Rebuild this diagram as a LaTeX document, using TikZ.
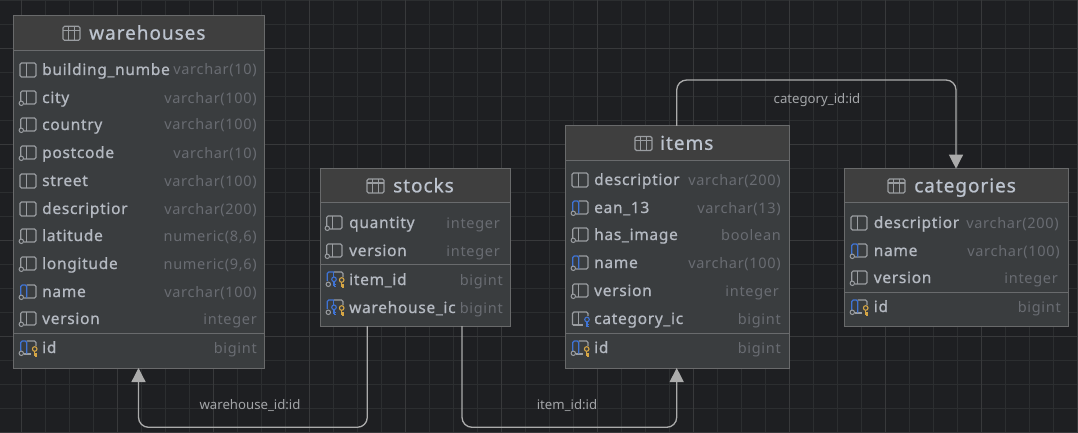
\documentclass[tikz,border=0pt]{standalone}
\usepackage{fontspec}
\usetikzlibrary{arrows.meta,calc}
\setmainfont{Noto Sans}
\newfontfamily\rowf[LetterSpace=4.5,FakeBold=0.8]{Noto Sans}
\newfontfamily\typef[LetterSpace=4.8]{Noto Sans}
\newfontfamily\titlef[LetterSpace=5,FakeBold=0.8]{Noto Sans}
\newfontfamily\labf{Noto Sans}
\definecolor{bgc}{HTML}{1E1F22}
\definecolor{gridmin}{HTML}{2C2E30}
\definecolor{gridmaj}{HTML}{38393B}
\definecolor{headc}{HTML}{3F3F3F}
\definecolor{bodyc}{HTML}{3A3D3F}
\definecolor{edgec}{HTML}{696A6B}
\definecolor{sepc}{HTML}{696B6D}
\definecolor{namec}{HTML}{B4B9C1}
\definecolor{typec}{HTML}{696C72}
\definecolor{titlec}{HTML}{BCC3CE}
\definecolor{iconc}{HTML}{9A9DA1}
\definecolor{bluec}{HTML}{3F74D6}
\definecolor{goldc}{HTML}{D6A645}
\definecolor{relc}{HTML}{ABABAB}
\definecolor{labc}{HTML}{A3A5A8}
\tikzset{
  tablebox/.style={draw=edgec,line width=1pt,fill=bodyc,inner sep=0pt,outer sep=0pt,anchor=north west},
  rowname/.style={anchor=base west,inner sep=0pt,text=namec,font=\rowf\fontsize{15.5}{16}\selectfont},
  rowtype/.style={anchor=base east,inner sep=0pt,text=typec,font=\typef\fontsize{14.5}{16}\selectfont},
  titletext/.style={anchor=base west,inner sep=0pt,text=titlec,font=\titlef\fontsize{19}{20}\selectfont},
  rellabel/.style={inner sep=0pt,text=labc,font=\labf\fontsize{13.2}{14}\selectfont},
  rel/.style={draw=relc,line width=1.3pt,rounded corners=10pt},
  reltip/.style={-{Triangle[length=14pt,width=14pt,fill=relc]}},
  icn/.style={draw=iconc,line width=1.1pt,rounded corners=1.5pt},
  blu/.style={draw=bluec,line width=1.2pt,rounded corners=1.5pt},
  kkey/.style={line width=1.1pt},
}
\newcounter{tn}
\newcommand{\dbtable}[9]{%
  \node[tablebox,minimum width=#4pt-#2pt,minimum height=#5pt-#3pt] (#1) at (#2,#3) {};
  \fill[headc] (#2+.5,#3+.5) rectangle (#4-.5,#6);
  \draw[sepc,line width=1pt] (#2+.5,#6) -- (#4-.5,#6);
  \draw[sepc,line width=1pt] (#2+.5,#7) -- (#4-.5,#7);
}
\newcommand{\dbtitle}[4]{%
  \draw[iconc,line width=1.1pt,rounded corners=1.5pt] (#2,#4-7) rectangle (#2+17,#4+7);
  \draw[iconc,line width=1.1pt] (#2,#4-3) -- (#2+17,#4-3) (#2+5.7,#4-7) -- (#2+5.7,#4+7) (#2+11.3,#4-7) -- (#2+11.3,#4+7);
  \stepcounter{tn}\node[titletext] (t\arabic{tn}) at (#3,#4+6.3) {#1};
}
\newcommand{\rowtxt}[6]{%
  \begin{scope}[shift={(#2,#5)}]#1\end{scope}%
  \stepcounter{tn}\node[rowname] (t\arabic{tn}) at (#3,#5+5) {#6};
}
\newcommand{\typetxt}[3]{\stepcounter{tn}\node[rowtype] (t\arabic{tn}) at (#1,#2+5) {#3};}
\newcommand{\icPlain}{\draw[icn] (0,-7) rectangle (16,7); \draw[icn] (6.7,-7) -- (6.7,7);}
\newcommand{\icBase}{%
  \draw[icn] (.7,3) -- (.7,-7) -- (16,-7) -- (16,6) -- (4,6);
  \draw[iconc,line width=1.1pt] (6.7,-7) -- (6.7,6);
  \draw[iconc,line width=1pt] (1.3,5.3) circle[radius=2.2pt];}
\newcommand{\icUq}{%
  \draw[icn] (6.7,-7) -- (16,-7) -- (16,6) -- (4,6);
  \draw[blu] (.7,3) -- (.7,-7) -- (6.7,-7) -- (6.7,5.5);
  \draw[iconc,line width=1pt] (1.3,5.3) circle[radius=2.2pt];}
\newcommand{\goldkey}[3]{%
  \draw[#3,kkey] (#1,#2) circle[radius=2.3pt];
  \draw[#3,kkey] (#1,#2+2.3) -- (#1,#2+7) (#1,#2+5) -- (#1+2.2,#2+5) (#1,#2+7) -- (#1+2.2,#2+7);}
\newcommand{\icPk}{%
  \draw[icn] (6.7,-7) -- (16,-7) -- (16,-2);
  \draw[icn] (4,6) -- (11,6);
  \draw[blu] (.7,3) -- (.7,-7) -- (6.7,-7) -- (6.7,5.5);
  \draw[iconc,line width=1pt] (1.3,5.3) circle[radius=2.2pt];
  \goldkey{14.7}{1}{goldc}}
\newcommand{\icFk}{%
  \draw[icn] (.5,6) -- (.5,-7) -- (16,-7) -- (16,-3);
  \draw[icn] (.5,6) -- (11,6);
  \draw[iconc,line width=1.1pt] (6.7,-7) -- (6.7,6);
  \goldkey{15}{0.5}{bluec}}
\newcommand{\icPkFk}{%
  \draw[icn] (8,-8) -- (17,-8) -- (17,-3);
  \draw[blu] (1.2,1) -- (1.2,-8) -- (8,-8);
  \draw[blu] (7.5,-8) -- (7.5,-3);
  \draw[iconc,line width=1pt] (2.3,4.3) circle[radius=2.2pt];
  \goldkey{8}{-0.7}{bluec}
  \goldkey{15.7}{0}{goldc}}
\begin{document}
\begin{tikzpicture}[x=1pt,y=-1pt]
\useasboundingbox (0,0) rectangle (1078,433);
\fill[bgc] (0,0) rectangle (1078,433);
\foreach \i in {0,...,45}{\draw[gridmin,line width=.9pt] (-2.7+24*\i,0) -- (-2.7+24*\i,433);}
\foreach \i in {0,...,18}{\draw[gridmin,line width=.9pt] (0,.3+24*\i) -- (1078,.3+24*\i);}
\foreach \i in {0,...,11}{\draw[gridmaj,line width=.9pt] (21.3+96*\i,0) -- (21.3+96*\i,433);}
\foreach \i in {0,...,4}{\draw[gridmaj,line width=.9pt] (0,48.3+96*\i) -- (1078,48.3+96*\i);}
% warehouses
\dbtable{warehouses}{13.5}{16}{264.5}{368}{50.7}{333.3}{}{}
\dbtitle{warehouses}{63}{89}{33.3}
\rowtxt{\icPlain}{20}{42}{257}{70}{building\_numbe}\typetxt{257}{70}{varchar(10)}
\rowtxt{\icBase}{20}{42}{257}{98}{city}\typetxt{257}{98}{varchar(100)}
\rowtxt{\icBase}{20}{42}{257}{125}{country}\typetxt{257}{125}{varchar(100)}
\rowtxt{\icBase}{20}{42}{257}{153}{postcode}\typetxt{257}{153}{varchar(10)}
\rowtxt{\icPlain}{20}{42}{257}{181}{street}\typetxt{257}{181}{varchar(100)}
\rowtxt{\icPlain}{20}{42}{257}{209}{descriptior}\typetxt{257}{209}{varchar(200)}
\rowtxt{\icBase}{20}{42}{257}{236}{latitude}\typetxt{257}{236}{numeric(8,6)}
\rowtxt{\icBase}{20}{42}{257}{264}{longitude}\typetxt{257}{264}{numeric(9,6)}
\rowtxt{\icUq}{20}{42}{257}{292}{name}\typetxt{257}{292}{varchar(100)}
\rowtxt{\icBase}{20}{42}{257}{319}{version}\typetxt{257}{319}{integer}
\rowtxt{\icPk}{20}{42}{257}{348}{id}\typetxt{257}{348}{bigint}
% stocks
\dbtable{stocks}{320.3}{168.3}{510}{326}{202.7}{264.3}{}{}
\dbtitle{stocks}{367}{393}{186}
\rowtxt{\icBase}{326}{349}{503}{223}{quantity}\typetxt{500}{223}{integer}
\rowtxt{\icBase}{326}{349}{503}{251}{version}\typetxt{500}{251}{integer}
\rowtxt{\icPkFk}{326}{349}{503}{280}{item\_id}\typetxt{503}{280}{bigint}
\rowtxt{\icPkFk}{326}{349}{503}{308}{warehouse\_ic}\typetxt{503}{308}{bigint}
% items
\dbtable{items}{565.7}{126}{789}{368}{160}{333.3}{}{}
\dbtitle{items}{635}{660}{143.5}
\rowtxt{\icPlain}{572}{594}{781}{180}{descriptior}\typetxt{781}{180}{varchar(200)}
\rowtxt{\icUq}{572}{594}{781}{208}{ean\_13}\typetxt{781}{208}{varchar(13)}
\rowtxt{\icBase}{572}{594}{781}{235}{has\_image}\typetxt{781}{235}{boolean}
\rowtxt{\icUq}{572}{594}{781}{263}{name}\typetxt{781}{263}{varchar(100)}
\rowtxt{\icBase}{572}{594}{781}{291}{version}\typetxt{779}{291}{integer}
\rowtxt{\icFk}{572}{594}{781}{319}{category\_ic}\typetxt{781}{319}{bigint}
\rowtxt{\icPk}{572}{594}{781}{348}{id}\typetxt{781}{348}{bigint}
% categories
\dbtable{categories}{844.3}{168.7}{1068.3}{326}{202.7}{292}{}{}
\dbtitle{categories}{888}{914}{186}
\rowtxt{\icPlain}{851}{873.6}{1061}{223}{descriptior}\typetxt{1059}{223}{varchar(200)}
\rowtxt{\icUq}{851}{873.6}{1061}{251}{name}\typetxt{1060}{251}{varchar(100)}
\rowtxt{\icBase}{851}{873.6}{1061}{278}{version}\typetxt{1058}{278}{integer}
\rowtxt{\icPk}{851}{873.6}{1061}{307}{id}\typetxt{1061}{307}{bigint}
% connectors
\coordinate (w1) at ($(stocks.south west)+(47,0)$);
\coordinate (w2) at ($(warehouses.south west)+(125,0)$);
\coordinate (i1) at ($(stocks.south west)+(141.7,0)$);
\coordinate (i2) at ($(items.south west)+(111,0)$);
\coordinate (c1) at ($(items.north west)+(111,0)$);
\coordinate (c2) at ($(categories.north west)+(111.7,0)$);
\draw[rel] (w1) -- (w1 |- 0,427.3) -- (w2 |- 0,427.3) -- (w2|-0,380);
\draw[rel] (i1) -- (i1 |- 0,427.3) -- (i2 |- 0,427.3) -- (i2|-0,380);
\draw[rel] (c1) -- (c1 |- 0,80) -- (c2 |- 0,80) -- (c2|-0,156);
\draw[relc,line width=1.3pt,reltip] (w2|-0,381) -- (w2);
\draw[relc,line width=1.3pt,reltip] (i2|-0,381) -- (i2);
\draw[relc,line width=1.3pt,reltip] (c2|-0,155) -- (c2);
\node[rellabel] (lw) at (250,405.5) {warehouse\_id:id};
\node[rellabel] (li) at (567,405.5) {item\_id:id};
\node[rellabel] (lc) at (817,100.5) {category\_id:id};
\end{tikzpicture}
\end{document}
